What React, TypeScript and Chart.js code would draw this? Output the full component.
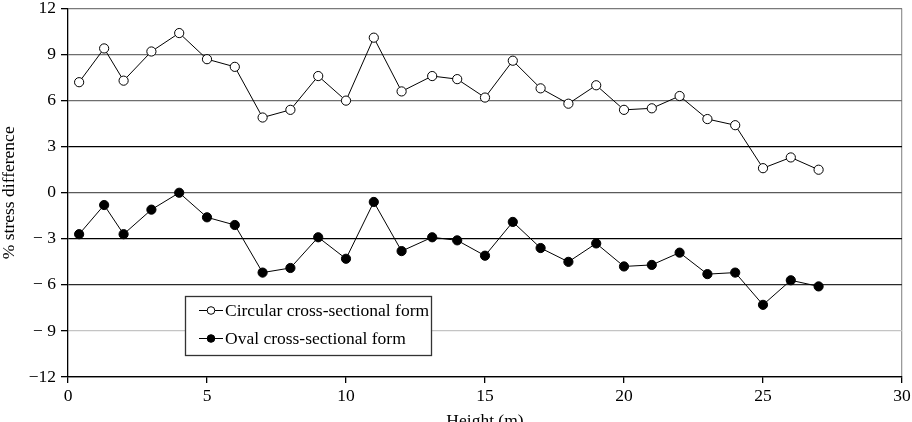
import { useEffect, useRef } from 'react';
import { Chart, registerables } from 'chart.js';

Chart.register(...registerables);

// Height along the stem (m)
const heights = [0.4, 1.3, 2, 3, 4, 5, 6, 7, 8, 9, 10, 11, 12, 13.1, 14, 15, 16, 17, 18, 19, 20, 21, 22, 23, 24, 25, 26, 27];

// % stress difference for each cross-sectional form
const circular = [7.2, 9.4, 7.3, 9.2, 10.4, 8.7, 8.2, 4.9, 5.4, 7.6, 6.0, 10.1, 6.6, 7.6, 7.4, 6.2, 8.6, 6.8, 5.8, 7.0, 5.4, 5.5, 6.3, 4.8, 4.4, 1.6, 2.3, 1.5];
const oval = [-2.7, -0.8, -2.7, -1.1, 0, -1.6, -2.1, -5.2, -4.9, -2.9, -4.3, -0.6, -3.8, -2.9, -3.1, -4.1, -1.9, -3.6, -4.5, -3.3, -4.8, -4.7, -3.9, -5.3, -5.2, -7.3, -5.7, -6.1];

const seriesLabels = ['Circular cross-sectional form', 'Oval cross-sectional form'];

const yTickValues = [-12, -9, -6, -3, 0, 3, 6, 9, 12];
const yTickLabels = ['\u221212', '\u2212 9', '\u2212 6', '\u2212 3', '0', '3', '6', '9', '12'];

const FAMILY = '"Liberation Serif", "Times New Roman", serif';
const FONT_SIZE = 17.5;

// Colour of each horizontal rule, keyed by its y value
const gridColour = (v: number) => {
  switch (v) {
    case 12: return '#7a7a7a';
    case 9: return '#6e6e6e';
    case 6: return '#6e6e6e';
    case 3: return '#000000';
    case 0: return '#5a5a5a';
    case -3: return '#000000';
    case -6: return '#2a2a2a';
    case -9: return '#c4c4c4';
    default: return '#000000';
  }
};

// Boxed legend drawn inside the plot area
const insetLegend = {
  id: 'insetLegend',
  afterDraw(chart: any) {
    const { ctx, chartArea } = chart;
    const x0 = chartArea.left + 117;
    const y0 = chartArea.top + 287.5;
    const w = 246;
    const h = 59;
    ctx.save();
    ctx.fillStyle = '#ffffff';
    ctx.fillRect(x0, y0, w, h);
    ctx.strokeStyle = '#333333';
    ctx.lineWidth = 1.3;
    ctx.strokeRect(x0 + 0.5, y0 + 0.5, w, h);
    chart.data.datasets.forEach((ds: any, i: number) => {
      const cy = y0 + 14.5 + i * 28;
      ctx.strokeStyle = '#000';
      ctx.lineWidth = 1;
      ctx.beginPath();
      ctx.moveTo(x0 + 14, cy);
      ctx.lineTo(x0 + 38, cy);
      ctx.stroke();
      ctx.beginPath();
      ctx.arc(x0 + 26, cy, 3.8, 0, Math.PI * 2);
      ctx.fillStyle = ds.pointBackgroundColor;
      ctx.fill();
      ctx.stroke();
      ctx.fillStyle = '#000';
      ctx.font = `${FONT_SIZE}px ${FAMILY}`;
      ctx.textBaseline = 'middle';
      ctx.textAlign = 'left';
      ctx.fillText(ds.label, x0 + 40, cy + 1);
    });
    ctx.restore();
  },
};

export default function App() {
  const canvasRef = useRef<HTMLCanvasElement | null>(null);

  useEffect(() => {
    const canvas = canvasRef.current;
    if (!canvas) return;
    const tickFont = { family: FAMILY, size: FONT_SIZE, lineHeight: 1 };
    const chart = new Chart(canvas, {
      type: 'line',
      data: {
        datasets: [
          {
            label: seriesLabels[0],
            data: heights.map((h, i) => ({ x: h, y: circular[i] })),
            borderColor: '#000',
            borderWidth: 1,
            pointRadius: 4.6,
            pointBorderWidth: 1,
            pointBorderColor: '#000',
            pointBackgroundColor: '#ffffff',
            tension: 0,
          },
          {
            label: seriesLabels[1],
            data: heights.map((h, i) => ({ x: h, y: oval[i] })),
            borderColor: '#000',
            borderWidth: 1,
            pointRadius: 4.6,
            pointBorderWidth: 1,
            pointBorderColor: '#000',
            pointBackgroundColor: '#000000',
            tension: 0,
          },
        ],
      },
      options: {
        responsive: false,
        animation: false,
        layout: { padding: { top: 8.5, right: 10, left: 0, bottom: 0 } },
        plugins: {
          legend: { display: false },
          tooltip: { enabled: false },
        },
        scales: {
          x: {
            type: 'linear',
            min: 0,
            max: 30,
            ticks: { stepSize: 5, font: tickFont, color: '#000', padding: 5, maxRotation: 0 },
            grid: {
              color: (c: any) => (c.tick && c.tick.value === 30 ? '#9a9a9a' : 'rgba(0,0,0,0)'),
              tickColor: '#000',
              tickLength: 6,
              lineWidth: 1.3,
            },
            border: { color: '#000', width: 1.3 },
            title: {
              display: true,
              text: 'Height (m)',
              color: '#000',
              font: { family: FAMILY, size: FONT_SIZE, lineHeight: 1 },
              padding: { top: 0, bottom: -8 },
            },
            afterFit: (s: any) => { s.height = 45; s.paddingLeft = 0; s.paddingRight = 0; },
          },
          y: {
            type: 'linear',
            min: -12,
            max: 12,
            afterBuildTicks: (s: any) => { s.ticks = yTickValues.map((v) => ({ value: v })); },
            ticks: {
              font: tickFont,
              color: '#000',
              padding: 5,
              callback: (v: any) => yTickLabels[yTickValues.indexOf(Number(v))] ?? '',
            },
            grid: {
              color: (c: any) => gridColour(c.tick ? c.tick.value : 0),
              tickColor: '#000',
              tickLength: 7,
              lineWidth: 1.3,
            },
            border: { color: '#000', width: 1.3 },
            title: {
              display: true,
              text: '% stress difference',
              color: '#000',
              font: { family: FAMILY, size: FONT_SIZE, lineHeight: 1.05 },
              padding: { top: 0, bottom: 0 },
            },
            afterFit: (s: any) => { s.width = 68; s.paddingTop = 0; s.paddingBottom = 0; },
          },
        },
      },
      plugins: [insetLegend],
    });
    return () => chart.destroy();
  }, []);

  return (
    <div style={{ position: 'fixed', left: 0, top: 0, width: 912, height: 422, background: '#fff' }}>
      <canvas ref={canvasRef} width={912} height={422} style={{ display: 'block' }} />
    </div>
  );
}
